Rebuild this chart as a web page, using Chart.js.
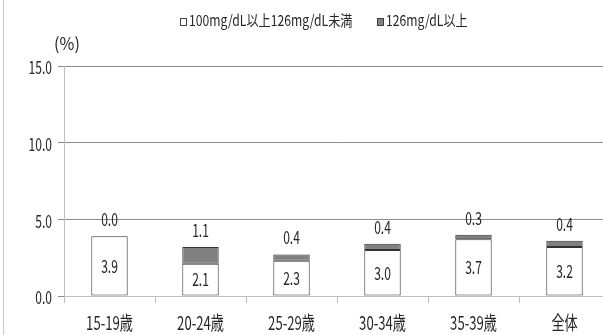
<!DOCTYPE html>
<html>
<head>
<meta charset="utf-8">
<script src="https://cdn.jsdelivr.net/npm/chart.js@4"></script>
<style>
    html, body { margin: 0; padding: 0; background: #fff; }
    #wrap { position: relative; width: 603px; height: 335px; overflow: hidden; }
    #frame { position: absolute; left: 3px; top: 0; width: 1px; height: 335px; background: #c8c8c8; }
    #chart { position: absolute; left: 0; top: 0; }
</style>
</head>
<body>
<div id="wrap">
    <canvas id="chart" width="612" height="335"></canvas>
    <div id="frame"></div>
</div>
<script>
// === Data ===
const categories = ['15-19歳', '20-24歳', '25-29歳', '30-34歳', '35-39歳', '全体'];
const lowerValues = [3.9, 2.1, 2.3, 3.0, 3.7, 3.2];   // 100mg/dL以上126mg/dL未満
const upperValues = [0.0, 1.1, 0.4, 0.4, 0.3, 0.4];   // 126mg/dL以上
const seriesNames = ['100mg/dL以上126mg/dL未満', '126mg/dL以上'];
const yTicks = [0, 5, 10, 15];

const FONT = '"Noto Sans CJK JP", sans-serif';
const TEXT = '#262626';

// condensed text: the original uses a narrow font, so squeeze horizontally
function drawText(ctx, s, x, y, size, sx, align) {
    ctx.save();
    ctx.translate(x, y);
    ctx.scale(sx, 1);
    ctx.font = size + 'px ' + FONT;
    ctx.textAlign = align;
    ctx.textBaseline = 'middle';
    ctx.fillStyle = TEXT;
    ctx.fillText(s, 0, 0);
    ctx.restore();
}

const labelPlugin = {
    id: 'labelPlugin',
    afterDatasetsDraw(chart) {
        const ctx = chart.ctx;
        const xs = chart.scales.x;
        const ys = chart.scales.y;

        // axis tick labels
        categories.forEach((c, i) => {
            drawText(ctx, c, xs.getPixelForTick(i), 323, 19, 0.69, 'center');
        });
        ys.ticks.forEach(t => {
            drawText(ctx, t.value.toFixed(1), 52, ys.getPixelForValue(t.value) + 1.5, 18, 0.67, 'right');
        });

        // value labels
        const lowerMeta = chart.getDatasetMeta(0);
        const upperMeta = chart.getDatasetMeta(1);
        lowerMeta.data.forEach((bar, i) => {
            drawText(ctx, lowerValues[i].toFixed(1), bar.x, (bar.y + bar.base) / 2, 18, 0.67, 'center');
        });
        upperMeta.data.forEach((bar, i) => {
            drawText(ctx, upperValues[i].toFixed(1), bar.x, bar.y - 17, 18, 0.67, 'center');
        });

        // (%) label
        drawText(ctx, '(%)', 67, 44, 17, 0.95, 'center');

        // legend
        const items = [
            { x: 180, fill: '#ffffff' },
            { x: 377, fill: '#808080' }
        ];
        items.forEach((it, i) => {
            ctx.save();
            ctx.fillStyle = it.fill;
            ctx.fillRect(it.x, 18.5, 7, 7);
            ctx.strokeStyle = '#404040';
            ctx.lineWidth = 1;
            ctx.strokeRect(it.x + 0.5, 18.5, 6, 7);
            ctx.restore();
            drawText(ctx, seriesNames[i], it.x + 9, 20.5, 15, 0.81, 'left');
        });
    }
};

new Chart(document.getElementById('chart'), {
    type: 'bar',
    data: {
        labels: categories,
        datasets: [
            {
                label: seriesNames[0],
                data: lowerValues,
                backgroundColor: '#ffffff',
                borderColor: '#333333',
                borderWidth: 1,
                borderSkipped: false,
                categoryPercentage: 1,
                barPercentage: 0.4
            },
            {
                label: seriesNames[1],
                data: upperValues,
                backgroundColor: '#808080',
                borderColor: '#333333',
                borderWidth: 1,
                borderSkipped: false,
                categoryPercentage: 1,
                barPercentage: 0.4
            }
        ]
    },
    options: {
        responsive: false,
        animation: false,
        devicePixelRatio: 1,
        layout: { padding: { top: 66, left: 0, right: 2, bottom: 0 } },
        plugins: {
            legend: { display: false },
            tooltip: { enabled: false }
        },
        scales: {
            x: {
                stacked: true,
                grid: {
                    display: true,
                    drawOnChartArea: false,
                    drawTicks: true,
                    tickLength: 7,
                    color: '#bfbfbf'
                },
                border: { color: '#bfbfbf' },
                ticks: { color: 'transparent', maxRotation: 0 },
                afterFit: (scale) => { scale.height = 39; }
            },
            y: {
                stacked: true,
                min: 0,
                max: 15,
                afterBuildTicks: (scale) => {
                    scale.ticks = yTicks.map(v => ({ value: v }));
                },
                grid: {
                    color: '#8c8c8c',
                    tickLength: 6,
                    tickColor: '#8c8c8c'
                },
                border: { color: '#bfbfbf' },
                ticks: { color: 'transparent' },
                afterFit: (scale) => { scale.width = 64; }
            }
        }
    },
    plugins: [labelPlugin]
});
</script>
</body>
</html>
